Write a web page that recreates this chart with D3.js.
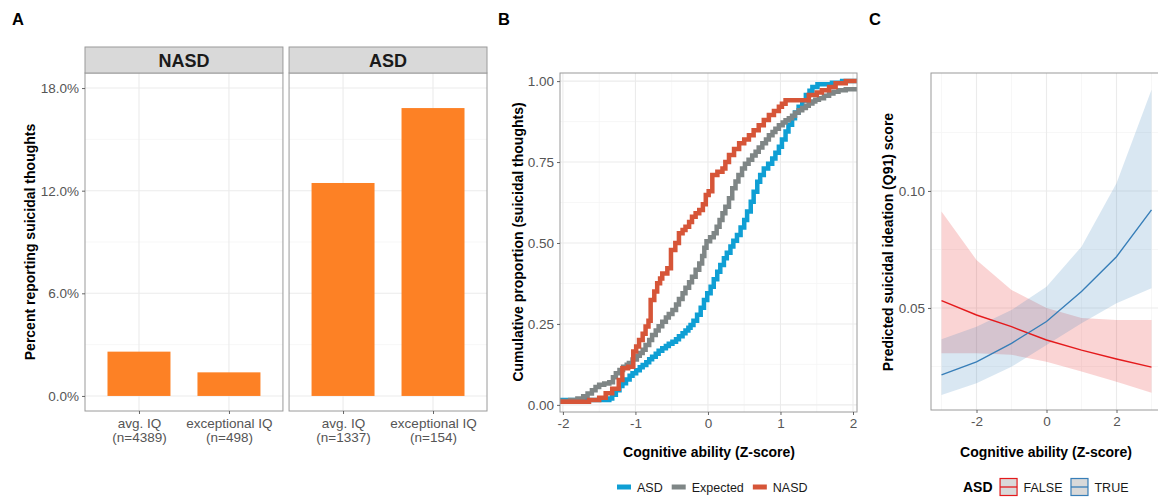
<!DOCTYPE html>
<html>
<head>
<meta charset="utf-8">
<script src="https://cdn.jsdelivr.net/npm/d3@7"></script>
<style>
body { margin: 0; background: #fff; }
svg { font-family: "Liberation Sans", Arial, sans-serif; }
</style>
</head>
<body>
<div id="chart"></div>
<script>
// ---- data ----
var facets = ["NASD", "ASD"];
var iqGroups = ["avg. IQ", "exceptional IQ"];
var nasdN = [4389, 498];
var asdN = [1337, 154];
var nasdPct = [2.59, 1.38];
var asdPct = [12.45, 16.83];
var pctTicks = [0, 6, 12, 18];

var asdX = [-2.04, -1.36, -1.32, -1.27, -1.22, -1.18, -1.13, -1.08, -1.04, -0.99, -0.94, -0.90, -0.85, -0.81, -0.77, -0.72, -0.68, -0.63, -0.58, -0.54, -0.49, -0.44, -0.40, -0.35, -0.31, -0.27, -0.24, -0.20, -0.15, -0.10, -0.055, -0.01, 0.037, 0.08, 0.128, 0.17, 0.22, 0.26, 0.31, 0.35, 0.40, 0.45, 0.50, 0.54, 0.59, 0.63, 0.68, 0.72, 0.77, 0.83, 0.886, 0.93, 0.978, 1.02, 1.07, 1.11, 1.16, 1.20, 1.25, 1.30, 1.35, 1.40, 1.44, 1.51, 1.71, 1.85];
var asdY = [0.015, 0.02, 0.031, 0.045, 0.058, 0.067, 0.078, 0.09, 0.098, 0.107, 0.116, 0.123, 0.132, 0.141, 0.149, 0.158, 0.167, 0.175, 0.182, 0.189, 0.195, 0.203, 0.212, 0.221, 0.23, 0.238, 0.247, 0.26, 0.278, 0.30, 0.324, 0.345, 0.365, 0.388, 0.411, 0.432, 0.453, 0.47, 0.489, 0.507, 0.525, 0.548, 0.571, 0.597, 0.627, 0.658, 0.689, 0.71, 0.73, 0.745, 0.761, 0.779, 0.797, 0.82, 0.844, 0.865, 0.885, 0.903, 0.921, 0.94, 0.957, 0.97, 0.982, 0.99, 0.995, 1.0];
var expX = [-2.04, -1.90, -1.80, -1.72, -1.66, -1.60, -1.55, -1.50, -1.43, -1.36, -1.31, -1.27, -1.22, -1.17, -1.12, -1.09, -1.04, -0.98, -0.94, -0.90, -0.86, -0.81, -0.77, -0.72, -0.68, -0.63, -0.58, -0.54, -0.49, -0.44, -0.40, -0.35, -0.31, -0.26, -0.22, -0.17, -0.12, -0.08, -0.05, -0.02, 0.03, 0.08, 0.12, 0.16, 0.20, 0.24, 0.29, 0.335, 0.38, 0.42, 0.47, 0.51, 0.56, 0.61, 0.657, 0.70, 0.75, 0.80, 0.84, 0.89, 0.93, 0.978, 1.03, 1.07, 1.115, 1.16, 1.20, 1.25, 1.30, 1.35, 1.39, 1.44, 1.48, 1.53, 1.60, 1.67, 1.73, 1.80, 1.90];
var expY = [0.012, 0.015, 0.02, 0.027, 0.035, 0.045, 0.055, 0.062, 0.066, 0.07, 0.085, 0.098, 0.108, 0.118, 0.124, 0.129, 0.14, 0.152, 0.16, 0.17, 0.185, 0.20, 0.216, 0.23, 0.243, 0.257, 0.27, 0.281, 0.293, 0.31, 0.327, 0.345, 0.362, 0.379, 0.396, 0.417, 0.437, 0.46, 0.485, 0.505, 0.518, 0.53, 0.55, 0.571, 0.592, 0.612, 0.638, 0.669, 0.69, 0.71, 0.73, 0.745, 0.757, 0.77, 0.782, 0.795, 0.808, 0.82, 0.833, 0.843, 0.853, 0.864, 0.872, 0.879, 0.885, 0.893, 0.902, 0.91, 0.917, 0.924, 0.931, 0.937, 0.942, 0.947, 0.955, 0.962, 0.967, 0.972, 0.975];
var nasdX = [-2.04, -1.64, -1.50, -1.41, -1.32, -1.23, -1.18, -1.10, -1.03, -0.99, -0.95, -0.90, -0.86, -0.82, -0.79, -0.74, -0.70, -0.66, -0.63, -0.56, -0.51, -0.45, -0.40, -0.35, -0.31, -0.26, -0.22, -0.17, -0.12, -0.07, -0.03, 0.01, 0.06, 0.13, 0.20, 0.24, 0.29, 0.36, 0.43, 0.50, 0.565, 0.63, 0.70, 0.77, 0.84, 0.91, 0.978, 1.02, 1.07, 1.39, 1.50, 1.57, 1.67, 1.76, 1.90];
var nasdY = [0.01, 0.015, 0.022, 0.036, 0.05, 0.077, 0.113, 0.118, 0.165, 0.18, 0.20, 0.22, 0.242, 0.26, 0.324, 0.35, 0.376, 0.39, 0.406, 0.422, 0.478, 0.50, 0.53, 0.54, 0.55, 0.565, 0.581, 0.592, 0.602, 0.62, 0.648, 0.66, 0.71, 0.72, 0.73, 0.75, 0.772, 0.79, 0.808, 0.82, 0.833, 0.848, 0.864, 0.88, 0.895, 0.908, 0.921, 0.93, 0.941, 0.957, 0.965, 0.972, 0.982, 0.993, 1.0];
var ecdfNames = ["ASD", "Expected", "NASD"];

// model predictions
var zGrid = [-3, -2, -1, 0, 1, 2, 3];
var falseFit = [0.0531, 0.0470, 0.0420, 0.0363, 0.0320, 0.0282, 0.0247];
var falseLo = [0.0306, 0.0306, 0.0300, 0.0270, 0.0228, 0.0185, 0.0138];
var falseHi = [0.0912, 0.0705, 0.0577, 0.0500, 0.0457, 0.0449, 0.0449];
var trueFit = [0.0214, 0.0270, 0.0349, 0.0442, 0.0570, 0.0719, 0.0919];
var trueLo = [0.0128, 0.0178, 0.0249, 0.0342, 0.0435, 0.0520, 0.0584];
var trueHi = [0.0366, 0.0420, 0.0491, 0.0591, 0.0762, 0.1033, 0.1432];

var orange = "#fd8125";
var ecdfColors = ["#0f9fd4", "#7f8686", "#d65538"];
var asdColors = ["#e41a1c", "#377eb8"];
var gridMajor = "#ebebeb", gridMinor = "#f5f5f5", borderCol = "#9a9a9a";

var svg = d3.select("#chart").append("svg")
  .attr("width", 1158)
  .attr("height", 497);

function styleAxis(g) {
  g.attr("font-family", null).attr("font-size", null);
  g.select(".domain").remove();
  g.selectAll(".tick line").attr("stroke", "#555").attr("stroke-width", 0.9);
  g.selectAll(".tick text").attr("fill", "#555").style("font-size", "13.5px");
}

function drawGrid(g, x, y, xMajor, xMinor, yMajor, yMinor) {
  var r = x.range(), d = y.range();
  g.selectAll(null).data(yMinor).enter().append("line")
    .attr("x1", r[0]).attr("x2", r[1]).attr("y1", y).attr("y2", y)
    .attr("stroke", gridMinor).attr("stroke-width", 0.8);
  g.selectAll(null).data(xMinor).enter().append("line")
    .attr("y1", d[0]).attr("y2", d[1]).attr("x1", x).attr("x2", x)
    .attr("stroke", gridMinor).attr("stroke-width", 0.8);
  g.selectAll(null).data(yMajor).enter().append("line")
    .attr("x1", r[0]).attr("x2", r[1]).attr("y1", y).attr("y2", y)
    .attr("stroke", gridMajor).attr("stroke-width", 1.1);
  g.selectAll(null).data(xMajor).enter().append("line")
    .attr("y1", d[0]).attr("y2", d[1]).attr("x1", x).attr("x2", x)
    .attr("stroke", gridMajor).attr("stroke-width", 1.1);
}

function panelLabel(txt, x) {
  svg.append("text").attr("x", x).attr("y", 24.5)
    .attr("font-weight", "bold").attr("font-size", "16.5px").text(txt);
}

function yTitle(txt, x, yc) {
  svg.append("text")
    .attr("transform", "translate(" + x + "," + yc + ") rotate(-90)")
    .attr("text-anchor", "middle")
    .attr("font-weight", "bold").attr("font-size", "14px").text(txt);
}

function xTitle(txt, xc) {
  svg.append("text").attr("x", xc).attr("y", 457)
    .attr("text-anchor", "middle")
    .attr("font-weight", "bold").attr("font-size", "14px").text(txt);
}

// ================= Panel A =================
panelLabel("A", 12);
var yA = d3.scaleLinear().domain([-0.88, 18.88]).range([411, 73]);
var facetBox = d3.scaleBand().domain(facets).range([85, 487]).paddingInner(0.03);
var barData = [nasdPct, asdPct];
var countData = [nasdN, asdN];

facets.forEach(function(f, fi) {
  var x0 = facetBox(f), x1 = x0 + facetBox.bandwidth();
  var xA = d3.scalePoint().domain(iqGroups).range([x0, x1]).padding(0.6);
  var step = xA.step();
  var g = svg.append("g");

  drawGrid(g, d3.scaleLinear().range([x0, x1]), yA,
    [], [], pctTicks, [3, 9, 15]);
  g.selectAll(null).data(iqGroups).enter().append("line")
    .attr("x1", function(d) { return xA(d); }).attr("x2", function(d) { return xA(d); })
    .attr("y1", 73).attr("y2", 411)
    .attr("stroke", gridMajor).attr("stroke-width", 1.1);

  g.selectAll("rect.bar").data(barData[fi]).enter().append("rect")
    .attr("class", "bar")
    .attr("x", function(d, i) { return xA(iqGroups[i]) - step * 0.35; })
    .attr("width", step * 0.7)
    .attr("y", function(d) { return yA(d); })
    .attr("height", function(d) { return yA(0) - yA(d); })
    .attr("fill", orange);

  g.append("rect").attr("x", x0).attr("y", 73).attr("width", x1 - x0).attr("height", 411 - 73)
    .attr("fill", "none").attr("stroke", borderCol);

  // strip
  g.append("rect").attr("x", x0).attr("y", 47).attr("width", x1 - x0).attr("height", 26)
    .attr("fill", "#d9d9d9").attr("stroke", borderCol);
  g.append("text").attr("x", (x0 + x1) / 2).attr("y", 66.5).attr("text-anchor", "middle")
    .attr("font-weight", "bold").attr("font-size", "18px").attr("fill", "#1a1a1a").text(f);

  var ax = g.append("g").attr("transform", "translate(0,411)")
    .call(d3.axisBottom(xA).tickSize(3).tickPadding(4));
  styleAxis(ax);
  ax.selectAll(".tick text").each(function(d, i) {
    var t = d3.select(this);
    t.text(null);
    t.append("tspan").attr("x", 0).text(d);
    t.append("tspan").attr("x", 0).attr("dy", "1.08em").text("(n=" + countData[fi][i] + ")");
  });
});

var ayA = svg.append("g").attr("transform", "translate(85,0)")
  .call(d3.axisLeft(yA).tickValues(pctTicks).tickSize(3).tickPadding(3)
    .tickFormat(function(d) { return d.toFixed(1) + "%"; }));
styleAxis(ayA);
yTitle("Percent reporting suicidal thoughts", 35, 242);

// ================= Panel B =================
panelLabel("B", 498);
var xB = d3.scaleLinear().domain([-2.04, 2.055]).range([560, 857]);
var yB = d3.scaleLinear().domain([-0.022, 1.025]).range([412, 73]);
var gB = svg.append("g");
drawGrid(gB, xB, yB, [-2, -1, 0, 1, 2], [-1.5, -0.5, 0.5, 1.5],
  [0, 0.25, 0.5, 0.75, 1], [0.125, 0.375, 0.625, 0.875]);

svg.append("clipPath").attr("id", "clipB").append("rect")
  .attr("x", 560).attr("y", 73).attr("width", 297).attr("height", 339);

var ecdfSeries = [[asdX, asdY], [expX, expY], [nasdX, nasdY]].map(function(s) {
  var pts = s[0].map(function(x, i) { return [x, s[1][i]]; });
  pts.push([xB.domain()[1], s[1][s[1].length - 1]]);
  return pts;
});
var stepLine = d3.line()
  .x(function(d) { return xB(d[0]); })
  .y(function(d) { return yB(d[1]); })
  .curve(d3.curveStepAfter);
gB.append("g").attr("clip-path", "url(#clipB)")
  .selectAll("path").data(ecdfSeries).enter().append("path")
  .attr("d", stepLine)
  .attr("fill", "none")
  .attr("stroke", function(d, i) { return ecdfColors[i]; })
  .attr("stroke-width", 4.5);

gB.append("rect").attr("x", 560).attr("y", 73).attr("width", 297).attr("height", 339)
  .attr("fill", "none").attr("stroke", borderCol);

var axB = svg.append("g").attr("transform", "translate(0,412)")
  .call(d3.axisBottom(xB).tickValues([-2, -1, 0, 1, 2]).tickSize(3).tickPadding(3)
    .tickFormat(function(d) { return String(d); }));
styleAxis(axB);
var ayB = svg.append("g").attr("transform", "translate(560,0)")
  .call(d3.axisLeft(yB).tickValues([0, 0.25, 0.5, 0.75, 1]).tickSize(3).tickPadding(3)
    .tickFormat(d3.format(".2f")));
styleAxis(ayB);
yTitle("Cumulative proportion (suicidal thoughts)", 523, 242);
xTitle("Cognitive ability (Z-score)", 709);

// legend B
var lx = 617;
ecdfNames.forEach(function(n, i) {
  svg.append("line").attr("x1", lx).attr("x2", lx + 14).attr("y1", 487).attr("y2", 487)
    .attr("stroke", ecdfColors[i]).attr("stroke-width", 5);
  var t = svg.append("text").attr("x", lx + 20).attr("y", 492)
    .attr("font-size", "12.5px").attr("fill", "#1a1a1a").text(n);
  lx = lx + 20 + t.node().getComputedTextLength() + 9;
});

// ================= Panel C =================
panelLabel("C", 869);
var xC = d3.scaleLinear().domain([-3.3, 3.3]).range([931, 1162]);
var yC = d3.scaleLinear().domain([0.0064, 0.1504]).range([410, 73]);
var gC = svg.append("g");
drawGrid(gC, xC, yC, [-2, 0, 2], [-3, -1, 1, 3], [0.05, 0.10], [0.025, 0.075, 0.125]);

var fits = [[falseLo, falseHi, falseFit], [trueLo, trueHi, trueFit]];
var area = d3.area()
  .x(function(d) { return xC(d.z); })
  .y0(function(d) { return yC(d.lo); })
  .y1(function(d) { return yC(d.hi); });
var fitLine = d3.line()
  .x(function(d) { return xC(d.z); })
  .y(function(d) { return yC(d.fit); });
var fitRows = fits.map(function(f) {
  return zGrid.map(function(z, i) { return { z: z, lo: f[0][i], hi: f[1][i], fit: f[2][i] }; });
});
gC.selectAll("path.rib").data(fitRows).enter().append("path")
  .attr("class", "rib")
  .attr("d", area)
  .attr("fill", function(d, i) { return asdColors[i]; })
  .attr("fill-opacity", 0.19);
gC.selectAll("path.fit").data(fitRows).enter().append("path")
  .attr("class", "fit")
  .attr("d", fitLine)
  .attr("fill", "none")
  .attr("stroke", function(d, i) { return asdColors[i]; })
  .attr("stroke-width", 1.4);

gC.append("rect").attr("x", 931).attr("y", 73).attr("width", 231).attr("height", 337)
  .attr("fill", "none").attr("stroke", borderCol);

var axC = svg.append("g").attr("transform", "translate(0,410)")
  .call(d3.axisBottom(xC).tickValues([-2, 0, 2]).tickSize(3).tickPadding(3)
    .tickFormat(function(d) { return String(d); }));
styleAxis(axC);
var ayC = svg.append("g").attr("transform", "translate(931,0)")
  .call(d3.axisLeft(yC).tickValues([0.05, 0.10]).tickSize(3).tickPadding(3)
    .tickFormat(d3.format(".2f")));
styleAxis(ayC);
yTitle("Predicted suicidal ideation (Q91) score", 893, 242);
xTitle("Cognitive ability (Z-score)", 1046);

// legend C
var lt = svg.append("text").attr("x", 963).attr("y", 492)
  .attr("font-weight", "bold").attr("font-size", "14px").text("ASD");
var cx = 963 + lt.node().getComputedTextLength() + 7;
["FALSE", "TRUE"].forEach(function(n, i) {
  svg.append("rect").attr("x", cx + 0.5).attr("y", 478.5).attr("width", 17).attr("height", 17)
    .attr("fill", "#d9d9d9").attr("stroke", asdColors[i]).attr("stroke-width", 1.2);
  svg.append("line").attr("x1", cx + 0.5).attr("x2", cx + 17.5).attr("y1", 487).attr("y2", 487)
    .attr("stroke", asdColors[i]).attr("stroke-width", 1.3);
  var t = svg.append("text").attr("x", cx + 24).attr("y", 492)
    .attr("font-size", "12.5px").attr("fill", "#1a1a1a").text(n);
  cx = cx + 24 + t.node().getComputedTextLength() + 8;
});
</script>
</body>
</html>
